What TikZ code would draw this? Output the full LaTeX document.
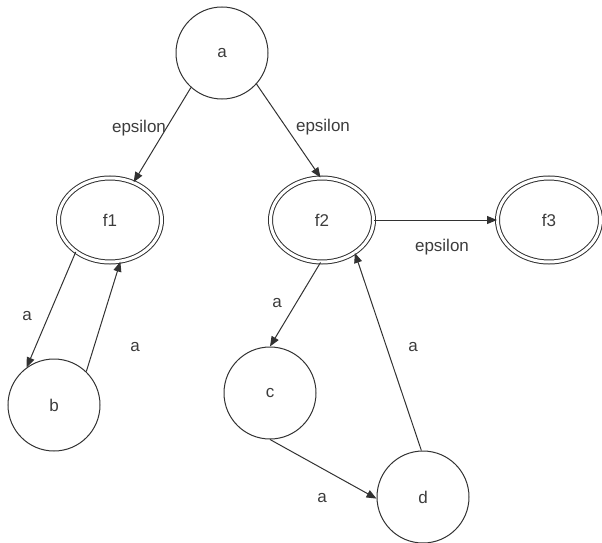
\documentclass[tikz,border=0pt]{standalone}
\usepackage{fontspec}
\setmainfont{Liberation Sans}
\usetikzlibrary{shapes.geometric,arrows.meta}
\definecolor{ink}{RGB}{50,50,50}
\definecolor{txt}{RGB}{60,60,60}
\tikzset{
  state/.style={circle, draw=ink, line width=1pt, minimum size=92pt, inner sep=0pt,
    text=txt, font=\fontsize{17}{20}\selectfont},
  final/.style={ellipse, draw=ink, line width=1pt, double, double distance=3pt,
    minimum width=103pt, minimum height=84pt, inner sep=0pt,
    text=txt, font=\fontsize{17}{20}\selectfont},
  trans/.style={draw=ink, line width=1pt, -{Triangle[length=10pt,width=8pt]}},
  lbl/.style={text=txt, font=\fontsize{17}{20}\selectfont, inner sep=0pt}
}
\begin{document}
\begin{tikzpicture}[x=1pt,y=-1pt]
  \useasboundingbox (0,0) rectangle (602,543);
  % states
  \node[state] (a) at (222,53) {a};
  \node[final] (f1) at (110,220) {f1};
  \node[final] (f2) at (322,220) {f2};
  \node[final] (f3) at (549,220) {f3};
  \node[state] (b) at (54,405) {b};
  \node[state] (c) at (270,393) {c};
  \node[state] (d) at (423,497) {d};
  % transitions
  \draw[trans] (a.228) -- (f1.58);
  \draw[trans] (a.318) -- (f2.92);
  \draw[trans] (f2.east) -- (f3.west);
  \draw[trans] (f1.223) -- (b.126);
  \draw[trans] (b.46) -- (f1.284);
  \draw[trans] (f2.268) -- (c.90);
  \draw[trans] (c.270) -- (d.182);
  \draw[trans] (d.92) -- (f2.315);
  % labels
  \node[lbl] (l1) at (139,128) {epsilon};
  \node[lbl] (l2) at (323,127) {epsilon};
  \node[lbl] (l3) at (442,247) {epsilon};
  \node[lbl] (l4) at (27,316) {a};
  \node[lbl] (l5) at (135,347) {a};
  \node[lbl] (l6) at (277,303) {a};
  \node[lbl] (l7) at (413,347) {a};
  \node[lbl] (l8) at (322,498) {a};
\end{tikzpicture}
\end{document}
